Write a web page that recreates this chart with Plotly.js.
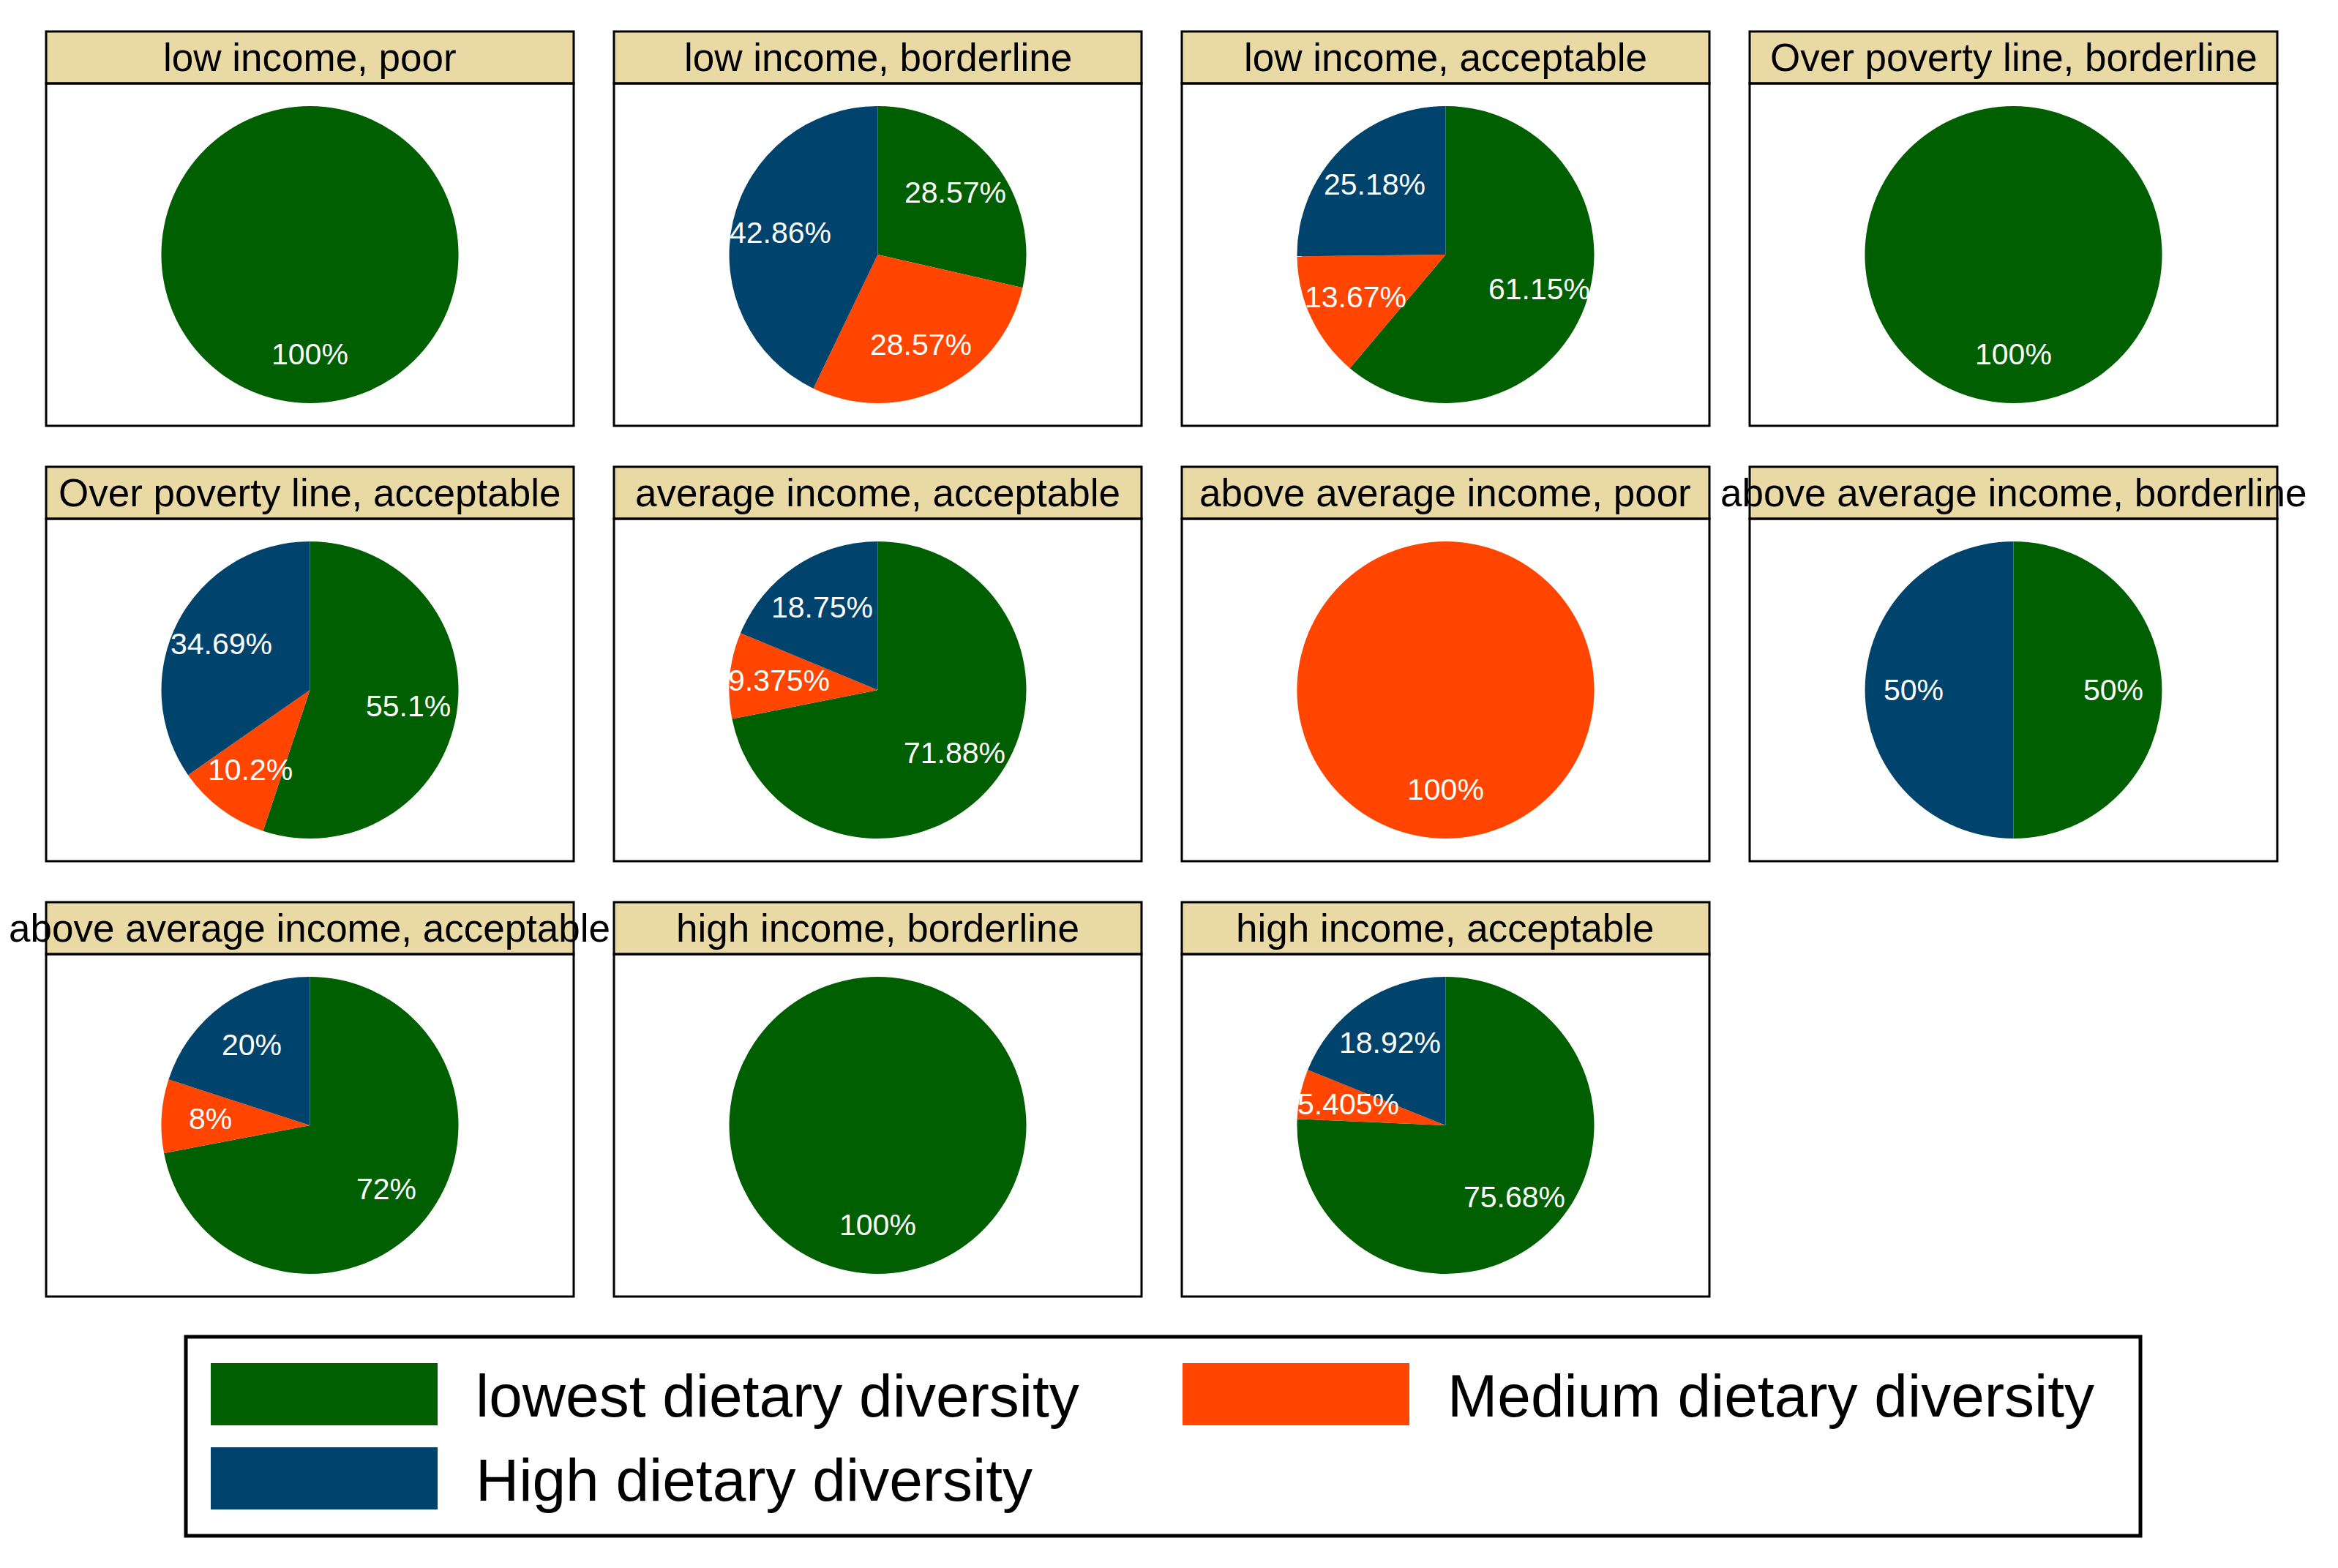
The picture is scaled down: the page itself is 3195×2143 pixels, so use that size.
<!DOCTYPE html>
<html>
<head>
<meta charset="utf-8">
<script src="https://cdn.plot.ly/plotly-3.0.1.min.js"></script>
<style>
  html, body { margin: 0; padding: 0; background: #ffffff; }
  #chart { width: 3195px; height: 2143px; }
</style>
</head>
<body>
<div id="chart"></div>
<script>
// ---------------- data ----------------
const panelTitles = [
  "low income, poor",
  "low income, borderline",
  "low income, acceptable",
  "Over poverty line, borderline",
  "Over poverty line, acceptable",
  "average income, acceptable",
  "above average income, poor",
  "above average income, borderline",
  "above average income, acceptable",
  "high income, borderline",
  "high income, acceptable"
];
const groups = ["lowest dietary diversity", "Medium dietary diversity", "High dietary diversity"];
const lowestPct = [100, 28.57, 61.15, 100, 55.1, 71.88, 0, 50, 72, 100, 75.68];
const mediumPct = [0, 28.57, 13.67, 0, 10.2, 9.375, 100, 0, 8, 0, 5.405];
const highPct   = [0, 42.86, 25.18, 0, 34.69, 18.75, 0, 50, 20, 0, 18.92];
const groupColors = ["#005F00", "#FF4500", "#00446E"];

// ---------------- geometry (pixels) ----------------
const W = 3195, H = 2143;
const FONT = "Liberation Sans, Arial, Helvetica, sans-serif";
const colLeft0 = 63, colPitch = 776, panelW = 721;
const rowTop0 = 43, rowPitch = 595, stripH = 71, boxH = 468;
const pieR = 203;
const labelFrac = 0.67;

const px = x => x / W;
const py = y => 1 - y / H;

const traces = [];
const shapes = [];
const annotations = [];

function fmt(v) {
  return parseFloat(v.toPrecision(4)).toString() + "%";
}

panelTitles.forEach((title, i) => {
  const col = i % 4, row = Math.floor(i / 4);
  const left = colLeft0 + col * colPitch;
  const right = left + panelW;
  const top = rowTop0 + row * rowPitch;
  const stripBottom = top + stripH;
  const bottom = stripBottom + boxH;
  const cx = (left + right) / 2;
  const cy = (stripBottom + bottom) / 2;

  // strip
  shapes.push({
    type: "rect", xref: "paper", yref: "paper",
    x0: px(left), x1: px(right), y0: py(top), y1: py(stripBottom),
    fillcolor: "#E9DAA5", line: { color: "#000000", width: 3 }, layer: "below"
  });
  // panel box
  shapes.push({
    type: "rect", xref: "paper", yref: "paper",
    x0: px(left), x1: px(right), y0: py(stripBottom), y1: py(bottom),
    fillcolor: "rgba(0,0,0,0)", line: { color: "#000000", width: 3 }, layer: "above"
  });
  // title
  annotations.push({
    xref: "paper", yref: "paper", x: px(cx), y: py((top + stripBottom) / 2),
    xanchor: "center", yanchor: "middle", showarrow: false,
    text: title, font: { family: FONT, size: 53, color: "#000000" }
  });

  const vals = [lowestPct[i], mediumPct[i], highPct[i]];
  traces.push({
    type: "pie",
    labels: groups,
    values: vals,
    sort: false,
    direction: "clockwise",
    rotation: 0,
    textinfo: "none",
    hoverinfo: "skip",
    showlegend: false,
    marker: { colors: groupColors, line: { width: 0 } },
    domain: { x: [px(cx - pieR), px(cx + pieR)], y: [py(cy + pieR), py(cy - pieR)] }
  });

  // slice labels, placed at the mid-angle of each slice
  const total = vals.reduce((a, b) => a + b, 0);
  let cum = 0;
  vals.forEach(v => {
    if (v > 0) {
      const mid = (cum + v / 2) / total * 2 * Math.PI;
      const lx = cx + labelFrac * pieR * Math.sin(mid);
      const ly = cy - labelFrac * pieR * Math.cos(mid);
      annotations.push({
        xref: "paper", yref: "paper", x: px(lx), y: py(ly),
        xanchor: "center", yanchor: "middle", showarrow: false,
        text: fmt(v), font: { family: FONT, size: 41, color: "#ffffff" }
      });
    }
    cum += v;
  });
});

// ---------------- legend (drawn) ----------------
const legLeft = 254, legRight = 2925, legTop = 1827, legBottom = 2099;
shapes.push({
  type: "rect", xref: "paper", yref: "paper",
  x0: px(legLeft), x1: px(legRight), y0: py(legTop), y1: py(legBottom),
  fillcolor: "#ffffff", line: { color: "#000000", width: 5 }, layer: "below"
});
const swW = 310, swH = 85;
const legPos = [
  { x: 288, y: 1863 },
  { x: 1616, y: 1863 },
  { x: 288, y: 1978 }
];
groups.forEach((g, k) => {
  const p = legPos[k];
  shapes.push({
    type: "rect", xref: "paper", yref: "paper",
    x0: px(p.x), x1: px(p.x + swW), y0: py(p.y), y1: py(p.y + swH),
    fillcolor: groupColors[k], line: { width: 0 }, layer: "above"
  });
  annotations.push({
    xref: "paper", yref: "paper", x: px(p.x + swW + 50), y: py(p.y + swH / 2 + 2),
    xanchor: "left", yanchor: "middle", showarrow: false,
    text: g, font: { family: FONT, size: 82, color: "#000000" }
  });
});

const layout = {
  width: W, height: H,
  margin: { l: 0, r: 0, t: 0, b: 0, pad: 0 },
  paper_bgcolor: "#ffffff",
  plot_bgcolor: "#ffffff",
  showlegend: false,
  shapes: shapes,
  annotations: annotations,
  font: { family: FONT }
};

Plotly.newPlot("chart", traces, layout, { staticPlot: true, displayModeBar: false });
</script>
</body>
</html>
